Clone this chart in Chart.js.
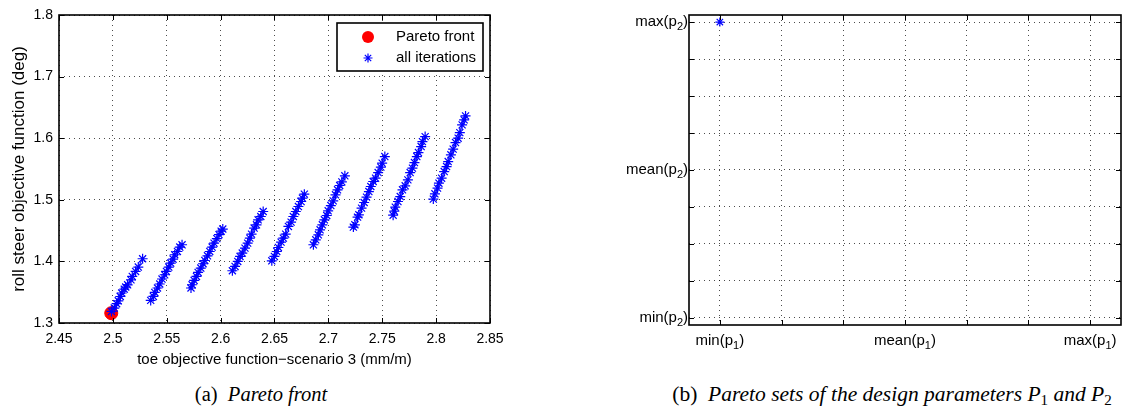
<!DOCTYPE html>
<html>
<head>
<meta charset="utf-8">
<script src="https://cdn.jsdelivr.net/npm/chart.js@4/dist/chart.umd.min.js"></script>
<style>
  body { margin: 0; background: #fff; width: 1130px; height: 409px; position: relative; overflow: hidden; }
  canvas { position: absolute; top: 0; }
  #front { left: 0; }
  #sets { left: 560px; }
  .caption { position: absolute; top: 384px; line-height: 1; font-family: "Liberation Serif", "Times New Roman", serif; font-size: 20.5px; white-space: nowrap; transform: translateX(-50%); }
  .caption i { font-style: italic; }
  .caption .sub { font-size: 0.7em; vertical-align: -0.25em; }
</style>
</head>
<body>
<canvas id="front" width="520" height="375"></canvas>
<canvas id="sets" width="570" height="375"></canvas>
<div class="caption" style="left:261px">(a)&nbsp; <i>Pareto front</i></div>
<div class="caption" style="left:892px; font-size:21.5px">(b)&nbsp; <i>Pareto sets of the design parameters P</i><span class="sub">1</span>&nbsp;<i>and P</i><span class="sub">2</span></div>
<script>
// (a) Pareto front
const paretoToe = [2.4985];
const paretoRoll = [1.316];

// all iterations, one strand per array
const iterToe = [
  [2.4987, 2.5013, 2.5035, 2.5050, 2.5069, 2.5082, 2.5106, 2.5119, 2.5137, 2.5168, 2.5180, 2.5211, 2.5236, 2.5276],
  [2.5351, 2.5376, 2.5389, 2.5414, 2.5435, 2.5456, 2.5481, 2.5497, 2.5519, 2.5537, 2.5559, 2.5574, 2.5599, 2.5621, 2.5642],
  [2.5725, 2.5735, 2.5754, 2.5776, 2.5791, 2.5816, 2.5837, 2.5853, 2.5878, 2.5899, 2.5921, 2.5939, 2.5965, 2.5985, 2.6005, 2.6020],
  [2.6109, 2.6134, 2.6159, 2.6180, 2.6201, 2.6226, 2.6251, 2.6271, 2.6287, 2.6311, 2.6333, 2.6348, 2.6373, 2.6395],
  [2.6475, 2.6499, 2.6521, 2.6536, 2.6561, 2.6582, 2.6604, 2.6629, 2.6654, 2.6675, 2.6698, 2.6722, 2.6747, 2.6759, 2.6777],
  [2.6861, 2.6883, 2.6907, 2.6923, 2.6944, 2.6963, 2.6985, 2.6998, 2.7023, 2.7045, 2.7066, 2.7085, 2.7105, 2.7125, 2.7153],
  [2.7232, 2.7246, 2.7271, 2.7283, 2.7308, 2.7332, 2.7354, 2.7376, 2.7394, 2.7416, 2.7438, 2.7462, 2.7487, 2.7499, 2.7524],
  [2.7601, 2.7612, 2.7621, 2.7646, 2.7667, 2.7688, 2.7713, 2.7738, 2.7759, 2.7780, 2.7799, 2.7821, 2.7836, 2.7861, 2.7873, 2.7898],
  [2.7974, 2.7989, 2.8013, 2.8026, 2.8051, 2.8075, 2.8097, 2.8112, 2.8137, 2.8158, 2.8180, 2.8204, 2.8220, 2.8241, 2.8260, 2.8273]
];
const iterRoll = [
  [1.3188, 1.3243, 1.3313, 1.3360, 1.3430, 1.3487, 1.3550, 1.3584, 1.3620, 1.3700, 1.3756, 1.3837, 1.3908, 1.4043],
  [1.3367, 1.3431, 1.3496, 1.3568, 1.3633, 1.3714, 1.3783, 1.3837, 1.3908, 1.3973, 1.4038, 1.4108, 1.4161, 1.4233, 1.4270],
  [1.3568, 1.3621, 1.3691, 1.3756, 1.3821, 1.3892, 1.3962, 1.4015, 1.4091, 1.4161, 1.4233, 1.4297, 1.4370, 1.4435, 1.4490, 1.4525],
  [1.3848, 1.3918, 1.3999, 1.4080, 1.4135, 1.4216, 1.4297, 1.4378, 1.4443, 1.4541, 1.4594, 1.4675, 1.4729, 1.4810],
  [1.4010, 1.4080, 1.4161, 1.4226, 1.4313, 1.4378, 1.4443, 1.4567, 1.4638, 1.4729, 1.4810, 1.4891, 1.4972, 1.5027, 1.5092],
  [1.4270, 1.4351, 1.4432, 1.4513, 1.4594, 1.4675, 1.4745, 1.4821, 1.4907, 1.4983, 1.5081, 1.5162, 1.5232, 1.5291, 1.5390],
  [1.4557, 1.4594, 1.4719, 1.4756, 1.4865, 1.4956, 1.5043, 1.5134, 1.5216, 1.5297, 1.5351, 1.5442, 1.5530, 1.5595, 1.5702],
  [1.4750, 1.4815, 1.4881, 1.4972, 1.5053, 1.5162, 1.5227, 1.5324, 1.5442, 1.5514, 1.5605, 1.5702, 1.5767, 1.5864, 1.5945, 1.6026],
  [1.5011, 1.5097, 1.5189, 1.5270, 1.5351, 1.5459, 1.5540, 1.5621, 1.5730, 1.5822, 1.5929, 1.6000, 1.6091, 1.6216, 1.6297, 1.6362]
];
const toeTicks = [2.45, 2.5, 2.55, 2.6, 2.65, 2.7, 2.75, 2.8, 2.85];
const rollTicks = [1.3, 1.4, 1.5, 1.6, 1.7, 1.8];

// (b) Pareto sets, labels are "<name>(p<sub>)"
const p1Ticks = [0, 1, 2, 3, 4, 5, 6];
const p1Labels = ["min", "", "", "mean", "", "", "max"];
const p2Ticks = [0, 1, 2, 3, 4, 5, 6, 7, 8];
const p2Labels = ["min", "", "", "", "mean", "", "", "", "max"];
const setP1 = [0];
const setP2 = [8];

const sans = "'Liberation Sans', Arial, Helvetica, sans-serif";
const blue = "#0000ff";
const red = "#ff0000";

function asterisk(ctx, x, y, r) {
  const d = r * Math.SQRT1_2;
  ctx.beginPath();
  ctx.moveTo(x - r, y); ctx.lineTo(x + r, y);
  ctx.moveTo(x, y - r); ctx.lineTo(x, y + r);
  ctx.moveTo(x - d, y - d); ctx.lineTo(x + d, y + d);
  ctx.moveTo(x - d, y + d); ctx.lineTo(x + d, y - d);
  ctx.stroke();
}

// box round the plot and inward ticks, like matlab
const matlabFrame = {
  id: "matlabFrame",
  afterDatasetsDraw(chart) {
    const { ctx, chartArea: a, scales } = chart;
    ctx.save();
    ctx.strokeStyle = "#000";
    ctx.lineWidth = 1;
    ctx.beginPath();
    scales.x.ticks.forEach((t) => {
      const px = Math.round(scales.x.getPixelForValue(t.value)) + 0.5;
      ctx.moveTo(px, a.bottom); ctx.lineTo(px, a.bottom - 5);
      ctx.moveTo(px, a.top); ctx.lineTo(px, a.top + 5);
    });
    scales.y.ticks.forEach((t) => {
      const py = Math.round(scales.y.getPixelForValue(t.value)) + 0.5;
      ctx.moveTo(a.left, py); ctx.lineTo(a.left + 5, py);
      ctx.moveTo(a.right, py); ctx.lineTo(a.right - 5, py);
    });
    ctx.stroke();
    ctx.lineWidth = 1.6;
    ctx.strokeRect(a.left, a.top, a.right - a.left, a.bottom - a.top);
    ctx.restore();
  }
};

const frontLegend = {
  id: "frontLegend",
  afterDraw(chart) {
    const { ctx, chartArea: a } = chart;
    const x0 = a.right - 153, y0 = a.top + 8, w = 146, h = 48;
    ctx.save();
    ctx.fillStyle = "#fff";
    ctx.fillRect(x0, y0, w, h);
    ctx.strokeStyle = "#000";
    ctx.lineWidth = 1.6;
    ctx.strokeRect(x0, y0, w, h);
    ctx.fillStyle = red;
    ctx.beginPath();
    ctx.arc(x0 + 31, y0 + 14, 6, 0, Math.PI * 2);
    ctx.fill();
    ctx.strokeStyle = blue;
    ctx.lineWidth = 1.2;
    asterisk(ctx, x0 + 31, y0 + 35, 4.5);
    ctx.fillStyle = "#000";
    ctx.font = "15px " + sans;
    ctx.textBaseline = "middle";
    ctx.fillText("Pareto front", x0 + 59, y0 + 14);
    ctx.fillText("all iterations", x0 + 59, y0 + 35);
    ctx.restore();
  }
};

// tick labels with a subscript, e.g. max(p2)
function subLabel(ctx, name, idx, x, y, align) {
  const big = "15px " + sans, small = "11px " + sans;
  const head = name + "(p";
  ctx.font = big;
  const w1 = ctx.measureText(head).width, w3 = ctx.measureText(")").width;
  ctx.font = small;
  const w2 = ctx.measureText(idx).width;
  const total = w1 + w2 + w3;
  let x0 = align === "right" ? x - total : x - total / 2;
  ctx.textAlign = "left";
  ctx.textBaseline = "middle";
  ctx.font = big;
  ctx.fillText(head, x0, y);
  ctx.font = small;
  ctx.fillText(idx, x0 + w1, y + 5);
  ctx.font = big;
  ctx.fillText(")", x0 + w1 + w2, y);
}

const setsLabels = {
  id: "setsLabels",
  afterDraw(chart) {
    const { ctx, chartArea: a, scales } = chart;
    ctx.save();
    ctx.fillStyle = "#000";
    p1Ticks.forEach((v, i) => {
      if (p1Labels[i]) subLabel(ctx, p1Labels[i], "1", scales.x.getPixelForValue(v), a.bottom + 16, "center");
    });
    p2Ticks.forEach((v, i) => {
      if (p2Labels[i]) subLabel(ctx, p2Labels[i], "2", a.left - 1, scales.y.getPixelForValue(v), "right");
    });
    ctx.restore();
  }
};

function axisStyle(fontSize) {
  return {
    grid: { color: "rgba(0,0,0,0.7)", lineWidth: 1, drawTicks: false },
    border: { display: false, dash: [1, 4] },
    ticks: { color: "#000", font: { family: sans, size: fontSize }, autoSkip: false, maxRotation: 0 }
  };
}

// chart (a)
const fx = axisStyle(14);
const fy = axisStyle(14);
new Chart(document.getElementById("front"), {
  type: "scatter",
  data: {
    datasets: [
      {
        label: "Pareto front",
        data: paretoToe.map((x, i) => ({ x: x, y: paretoRoll[i] })),
        pointStyle: "circle",
        pointRadius: 6.5,
        backgroundColor: red,
        borderColor: red,
        order: 1
      },
      ...iterToe.map((xs, k) => ({
        label: "all iterations",
        data: xs.map((x, i) => ({ x: x, y: iterRoll[k][i] })),
        showLine: true,
        pointStyle: "star",
        pointRadius: 5,
        pointBorderWidth: 1.2,
        borderWidth: 1,
        borderColor: blue,
        backgroundColor: blue
      }))
    ]
  },
  options: {
    responsive: false,
    animation: false,
    layout: { padding: { top: 15, right: 30, left: 0, bottom: 0 } },
    plugins: { legend: { display: false }, tooltip: { enabled: false } },
    scales: {
      x: {
        type: "linear", min: 2.45, max: 2.85,
        afterBuildTicks: (s) => { s.ticks = toeTicks.map((v) => ({ value: v })); },
        afterFit: (s) => { s.height = 52; },
        grid: fx.grid, border: fx.border,
        ticks: { ...fx.ticks, padding: 8, callback: (v) => String(+v.toFixed(2)) },
        title: { display: true, text: "toe objective function\u2212scenario 3 (mm/m)", color: "#000",
                 font: { family: sans, size: 15 }, padding: { top: 0, bottom: 6 } }
      },
      y: {
        type: "linear", min: 1.3, max: 1.8,
        afterBuildTicks: (s) => { s.ticks = rollTicks.map((v) => ({ value: v })); },
        afterFit: (s) => { s.width = 59; },
        grid: fy.grid, border: fy.border,
        ticks: { ...fy.ticks, padding: 6, callback: (v) => String(+v.toFixed(1)) },
        title: { display: true, text: "roll steer objective function (deg)", color: "#000",
                 font: { family: sans, size: 17 }, padding: { top: 9, bottom: 0 } }
      }
    }
  },
  plugins: [matlabFrame, frontLegend]
});

// chart (b)
const sx = axisStyle(14);
const sy = axisStyle(14);
new Chart(document.getElementById("sets"), {
  type: "scatter",
  data: {
    datasets: [{
      label: "Pareto set",
      data: setP1.map((x, i) => ({ x: x, y: setP2[i] })),
      pointStyle: "star",
      pointRadius: 4.5,
      pointBorderWidth: 1.2,
      borderColor: blue,
      backgroundColor: blue
    }]
  },
  options: {
    responsive: false,
    animation: false,
    layout: { padding: { top: 15, right: 9, left: 0, bottom: 0 } },
    plugins: { legend: { display: false }, tooltip: { enabled: false } },
    scales: {
      x: {
        type: "linear", min: -0.5, max: 6.5,
        afterBuildTicks: (s) => { s.ticks = p1Ticks.map((v) => ({ value: v })); },
        afterFit: (s) => { s.height = 50; },
        grid: sx.grid, border: sx.border,
        ticks: { ...sx.ticks, callback: () => "" }
      },
      y: {
        type: "linear", min: -0.19, max: 8.19,
        afterBuildTicks: (s) => { s.ticks = p2Ticks.map((v) => ({ value: v })); },
        afterFit: (s) => { s.width = 129; },
        grid: sy.grid, border: sy.border,
        ticks: { ...sy.ticks, callback: () => "" }
      }
    }
  },
  plugins: [matlabFrame, setsLabels]
});
</script>
</body>
</html>
